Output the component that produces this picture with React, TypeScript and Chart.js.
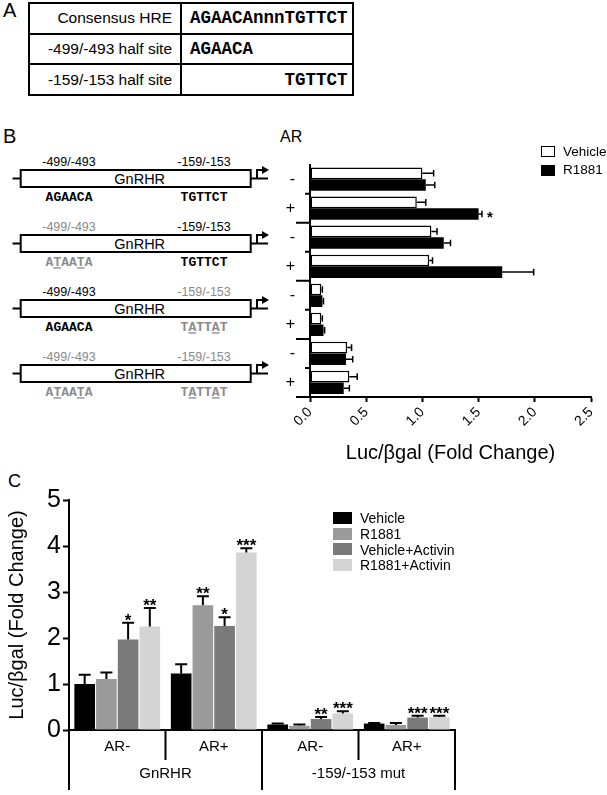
import React, { useEffect, useRef } from 'react';
import { Chart, registerables } from 'chart.js';

Chart.register(...registerables);

const SANS = '"Liberation Sans", Arial, Helvetica, sans-serif';
const MONO = '"Liberation Mono", "Courier New", monospace';
Chart.defaults.font.family = SANS;
Chart.defaults.color = '#000';

// ---------------- Panel A data ----------------
const hreNames = ['Consensus HRE', '-499/-493 half site', '-159/-153 half site'];
const hreSeqs = ['AGAACAnnnTGTTCT', 'AGAACA', 'TGTTCT'];
const hreSeqOffset = [0, 0, 9];

// ---------------- Panel B data ----------------
const bArLabels = ['-', '+', '-', '+', '-', '+', '-', '+'];
const bSeries = ['Vehicle', 'R1881'];
const bVehicle = [1.0, 0.95, 1.08, 1.06, 0.1, 0.1, 0.33, 0.35];
const bVehicleErr = [0.1, 0.08, 0.05, 0.03, 0.01, 0.01, 0.04, 0.07];
const bR1881 = [1.03, 1.5, 1.19, 1.71, 0.11, 0.12, 0.32, 0.3];
const bR1881Err = [0.08, 0.03, 0.06, 0.28, 0.01, 0.01, 0.06, 0.05];
const bR1881Sig = ['', '*', '', '', '', '', '', ''];
const bXTitle = 'Luc/βgal (Fold Change)';
const bXMax = 2.5;
const bXStep = 0.5;

const siteNames = ['-499/-493', '-159/-153'];
const siteWt = ['AGAACA', 'TGTTCT'];
const siteMut = ['ATAATA', 'TATTAT'];
const siteMutPositions = [1, 4];
const constructName = 'GnRHR';
const constructLeftMut = [false, true, false, true];
const constructRightMut = [false, false, true, true];

// ---------------- Panel C data ----------------
const cArLabels = ['AR-', 'AR+', 'AR-', 'AR+'];
const cConstructs = ['GnRHR', '-159/-153 mut'];
const cSeries = ['Vehicle', 'R1881', 'Vehicle+Activin', 'R1881+Activin'];
const cVehicle = [1.0, 1.23, 0.12, 0.14];
const cVehicleErr = [0.2, 0.2, 0.02, 0.01];
const cR1881 = [1.11, 2.71, 0.09, 0.11];
const cR1881Err = [0.14, 0.2, 0.03, 0.04];
const cVehAct = [1.97, 2.26, 0.24, 0.27];
const cVehActErr = [0.36, 0.19, 0.04, 0.04];
const cR1881Act = [2.25, 3.86, 0.36, 0.28];
const cR1881ActErr = [0.4, 0.09, 0.05, 0.03];
const cVehicleSig = ['', '', '', ''];
const cR1881Sig = ['', '**', '', ''];
const cVehActSig = ['*', '*', '**', '***'];
const cR1881ActSig = ['**', '***', '***', '***'];
const cYTitle = 'Luc/βgal (Fold Change)';
const cYMax = 5;

const cColors = ['#000000', '#9a9a9a', '#7a7a7a', '#d4d4d4'];

// ---------------- plugins ----------------
const errorBarPlugin = {
  id: 'errorBars',
  afterDatasetsDraw(chart: any, _args: any, opts: any) {
    const ctx = chart.ctx;
    const horizontal = chart.options.indexAxis === 'y';
    const vScale = horizontal ? chart.scales.x : chart.scales.y;
    ctx.save();
    ctx.strokeStyle = '#000';
    ctx.fillStyle = '#000';
    ctx.lineWidth = opts.lineWidth;
    ctx.font = opts.font;
    chart.data.datasets.forEach((ds: any, di: number) => {
      const meta = chart.getDatasetMeta(di);
      meta.data.forEach((el: any, i: number) => {
        const v = ds.data[i];
        const e = (ds.errors && ds.errors[i]) || 0;
        const end = vScale.getPixelForValue(v + e);
        const cap = opts.cap;
        ctx.beginPath();
        if (horizontal) {
          ctx.moveTo(el.x, el.y);
          ctx.lineTo(end, el.y);
          ctx.moveTo(end, el.y - cap);
          ctx.lineTo(end, el.y + cap);
        } else {
          ctx.moveTo(el.x, el.y);
          ctx.lineTo(el.x, end);
          ctx.moveTo(el.x - cap, end);
          ctx.lineTo(el.x + cap, end);
        }
        ctx.stroke();
        const s = ds.sig && ds.sig[i];
        if (s) {
          ctx.textBaseline = 'alphabetic';
          if (horizontal) {
            ctx.textAlign = 'left';
            ctx.fillText(s, end + opts.sigGap, el.y + opts.sigShift);
          } else {
            ctx.textAlign = 'center';
            ctx.fillText(s, el.x, end + opts.sigShift);
          }
        }
      });
    });
    ctx.restore();
  },
};

const bAxisTickPlugin = {
  id: 'bAxisTicks',
  afterDraw(chart: any) {
    const ctx = chart.ctx;
    const ys = chart.scales.y;
    const { left, bottom } = chart.chartArea;
    const n = chart.data.labels.length;
    ctx.save();
    ctx.strokeStyle = '#000';
    ctx.lineWidth = 2;
    ctx.beginPath();
    for (let i = 1; i < n; i++) {
      const y = (ys.getPixelForValue(i - 1) + ys.getPixelForValue(i)) / 2;
      const len = i % 2 === 0 ? 14 : 5;
      ctx.moveTo(left - len, y);
      ctx.lineTo(left, y);
    }
    ctx.moveTo(left - 14, bottom);
    ctx.lineTo(left, bottom);
    ctx.stroke();
    ctx.restore();
  },
};

const cGroupPlugin = {
  id: 'cGroups',
  afterDraw(chart: any) {
    const ctx = chart.ctx;
    const xs = chart.scales.x;
    const { left, right, bottom } = chart.chartArea;
    const n = chart.data.labels.length;
    const bounds: number[] = [];
    for (let i = 0; i <= n; i++) {
      bounds.push(i === 0 ? left : i === n ? right : (xs.getPixelForValue(i - 1) + xs.getPixelForValue(i)) / 2);
    }
    ctx.save();
    ctx.strokeStyle = '#000';
    ctx.lineWidth = 2;
    ctx.beginPath();
    bounds.forEach((x, i) => {
      const len = i % 2 === 0 ? 60 : 30;
      ctx.moveTo(x, bottom);
      ctx.lineTo(x, bottom + len);
    });
    ctx.stroke();
    ctx.font = `15px ${SANS}`;
    ctx.fillStyle = '#000';
    ctx.textAlign = 'center';
    ctx.textBaseline = 'middle';
    cConstructs.forEach((name, k) => {
      const x = (bounds[2 * k] + bounds[2 * k + 2]) / 2;
      ctx.fillText(name, x, bottom + 44);
    });
    ctx.restore();
  },
};

// ---------------- helpers ----------------
function Txt(props: {
  x: number; y: number; size: number; children: any; align?: 'left' | 'center' | 'right';
  color?: string; weight?: string; family?: string;
}) {
  const { x, y, size, children, align = 'left', color = '#000', weight = 'normal', family = SANS } = props;
  const tx = align === 'center' ? 'translateX(-50%)' : align === 'right' ? 'translateX(-100%)' : 'none';
  return (
    <div
      style={{
        position: 'absolute', left: x, top: y - 0.49 * size, fontSize: size, lineHeight: `${size}px`,
        fontFamily: family, fontWeight: weight as any, color, whiteSpace: 'pre', transform: tx,
      }}
    >
      {children}
    </div>
  );
}

function HreTable() {
  const cell: React.CSSProperties = { border: '2px solid #000', height: 28.7, padding: 0, boxSizing: 'content-box' };
  return (
    <table style={{ position: 'absolute', left: 28, top: 2, borderCollapse: 'collapse' }}>
      <tbody>
        {hreNames.map((name, i) => (
          <tr key={i}>
            <td style={{ ...cell, width: 142, paddingRight: 8, textAlign: 'right', fontFamily: SANS, fontSize: 15.5 }}>{name}</td>
            <td style={{ ...cell, width: 162, paddingLeft: 8, fontFamily: MONO, fontWeight: 'bold', fontSize: 17.5, whiteSpace: 'pre' }}>
              {' '.repeat(hreSeqOffset[i]) + hreSeqs[i]}
            </td>
          </tr>
        ))}
      </tbody>
    </table>
  );
}

function SeqText(props: { x: number; y: number; seq: string; mut: boolean }) {
  const { x, y, seq, mut } = props;
  return (
    <text x={x} y={y} textAnchor="middle" fontFamily={MONO} fontWeight="bold" fontSize={13} fill={mut ? '#8a8a8a' : '#000'}>
      {seq.split('').map((ch, k) => (
        <tspan key={k} style={mut && siteMutPositions.includes(k) ? { textDecoration: 'underline' } : undefined}>{ch}</tspan>
      ))}
    </text>
  );
}

function Constructs() {
  const rows = constructLeftMut.map((lm, i) => ({ lm, rm: constructRightMut[i], top: 170 + i * 65 }));
  const bx0 = 20.7;
  const bx1 = 250.7;
  const h = 17;
  const cx = [69, 204];
  return (
    <svg width={280} height={400} style={{ position: 'absolute', left: 0, top: 0 }}>
      {rows.map((r, i) => {
        const yc = r.top + h / 2;
        const mutFlags = [r.lm, r.rm];
        return (
          <g key={i}>
            <line x1={12.5} y1={yc} x2={bx0} y2={yc} stroke="#000" strokeWidth={2} />
            <rect x={bx0} y={r.top} width={bx1 - bx0} height={h} fill="#fff" stroke="#000" strokeWidth={2} />
            <line x1={bx1} y1={yc} x2={268} y2={yc} stroke="#000" strokeWidth={2} />
            <line x1={257} y1={yc} x2={257} y2={r.top - 1} stroke="#000" strokeWidth={2} />
            <line x1={256} y1={r.top} x2={263} y2={r.top} stroke="#000" strokeWidth={2} />
            <polygon points={`${262},${r.top - 4} ${269},${r.top} ${262},${r.top + 4}`} fill="#000" />
            <text x={(bx0 + bx1) / 2 + 4} y={yc + 5.2} textAnchor="middle" fontFamily={SANS} fontSize={14.5} fill="#000">
              {constructName}
            </text>
            {siteNames.map((sn, k) => (
              <text key={'n' + k} x={cx[k]} y={r.top - 9 + 4.5} textAnchor="middle" fontFamily={SANS} fontSize={12.5}
                fill={mutFlags[k] ? '#8a8a8a' : '#000'}>
                {sn}
              </text>
            ))}
            {siteNames.map((_sn, k) => (
              <SeqText key={'s' + k} x={cx[k]} y={r.top + 27 + 4.3} seq={mutFlags[k] ? siteMut[k] : siteWt[k]} mut={mutFlags[k]} />
            ))}
          </g>
        );
      })}
    </svg>
  );
}

function ChartB() {
  const ref = useRef<HTMLCanvasElement>(null);
  useEffect(() => {
    const chart = new Chart(ref.current as HTMLCanvasElement, {
      type: 'bar',
      data: {
        labels: bArLabels,
        datasets: [
          {
            label: bSeries[0], data: bVehicle, errors: bVehicleErr, backgroundColor: '#ffffff', borderColor: '#000',
            borderWidth: 1.5, borderSkipped: false, categoryPercentage: 0.8, barPercentage: 1.0,
          } as any,
          {
            label: bSeries[1], data: bR1881, errors: bR1881Err, sig: bR1881Sig, backgroundColor: '#000', borderColor: '#000',
            borderWidth: 0, categoryPercentage: 0.8, barPercentage: 1.0,
          } as any,
        ],
      },
      options: {
        indexAxis: 'y',
        responsive: false,
        animation: false,
        layout: { padding: { top: 8, right: 16, left: 0, bottom: 0 } },
        plugins: {
          legend: { display: false },
          tooltip: { enabled: false },
          errorBars: { lineWidth: 1.5, cap: 3.3, font: `bold 15px ${SANS}`, sigGap: 5, sigShift: 8.5 },
        } as any,
        scales: {
          x: {
            min: 0, max: bXMax,
            ticks: { stepSize: bXStep, callback: (v: any) => Number(v).toFixed(1), minRotation: 45, maxRotation: 45, font: { size: 14 }, color: '#000', padding: 2 },
            grid: { drawOnChartArea: false, drawTicks: true, tickLength: 5, color: '#000', tickWidth: 2 } as any,
            border: { display: true, color: '#000', width: 2 },
            title: { display: true, text: bXTitle, font: { size: 20 }, color: '#000', padding: { top: 0, bottom: 15 } },
            afterFit: (s: any) => { s.height = 83; },
          },
          y: {
            ticks: { font: { size: 16 }, color: '#000', padding: 15 },
            grid: { display: false, drawTicks: false },
            border: { display: true, color: '#000', width: 2 },
            afterFit: (s: any) => { s.width = 60; },
          },
        },
      } as any,
      plugins: [errorBarPlugin, bAxisTickPlugin],
    });
    return () => chart.destroy();
  }, []);
  return <canvas ref={ref} width={357} height={340} style={{ position: 'absolute', left: 250, top: 140, width: 357, height: 340 }} />;
}

function ChartC() {
  const ref = useRef<HTMLCanvasElement>(null);
  useEffect(() => {
    const mk = (i: number, data: number[], errors: number[], sig: string[]) => ({
      label: cSeries[i], data, errors, sig, backgroundColor: cColors[i], borderWidth: 0,
      categoryPercentage: 0.9, barPercentage: 0.95,
    } as any);
    const chart = new Chart(ref.current as HTMLCanvasElement, {
      type: 'bar',
      data: {
        labels: cArLabels,
        datasets: [
          mk(0, cVehicle, cVehicleErr, cVehicleSig),
          mk(1, cR1881, cR1881Err, cR1881Sig),
          mk(2, cVehAct, cVehActErr, cVehActSig),
          mk(3, cR1881Act, cR1881ActErr, cR1881ActSig),
        ],
      },
      options: {
        responsive: false,
        animation: false,
        layout: { padding: { top: 20, right: 15, left: 0, bottom: 0 } },
        plugins: {
          legend: { display: false },
          tooltip: { enabled: false },
          errorBars: { lineWidth: 2, cap: 6, font: `bold 17px ${SANS}`, sigGap: 0, sigShift: 3 },
        } as any,
        scales: {
          x: {
            ticks: { font: { size: 15 }, color: '#000', padding: 8 },
            grid: { display: false, drawTicks: false },
            border: { display: true, color: '#000', width: 2 },
            afterFit: (s: any) => { s.height = 65; },
          },
          y: {
            min: 0, max: cYMax,
            ticks: { stepSize: 1, font: { size: 25 }, color: '#000', padding: 2 },
            grid: { drawOnChartArea: false, drawTicks: true, tickLength: 6, color: '#000', tickWidth: 2 } as any,
            border: { display: true, color: '#000', width: 2 },
            title: { display: true, text: cYTitle, font: { size: 20 }, color: '#000', padding: { top: 5, bottom: 0 } },
            afterFit: (s: any) => { s.width = 69; },
          },
        },
      } as any,
      plugins: [errorBarPlugin, cGroupPlugin],
    });
    return () => chart.destroy();
  }, []);
  return <canvas ref={ref} width={470} height={315} style={{ position: 'absolute', left: 0, top: 480, width: 470, height: 315 }} />;
}

function LegendB() {
  const rows = [151.7, 170];
  return (
    <>
      {bSeries.map((s, i) => (
        <React.Fragment key={s}>
          <div style={{
            position: 'absolute', left: 541, top: rows[i] - 5.5, width: 14, height: 11, boxSizing: 'border-box',
            border: '1.5px solid #000', background: i === 0 ? '#fff' : '#000',
          }} />
          <Txt x={563} y={rows[i]} size={13.5}>{s}</Txt>
        </React.Fragment>
      ))}
    </>
  );
}

function LegendC() {
  return (
    <>
      {cSeries.map((s, i) => {
        const cy = 518.3 + i * 15.55;
        return (
          <React.Fragment key={s}>
            <div style={{ position: 'absolute', left: 333, top: cy - 6, width: 19, height: 12, background: cColors[i] }} />
            <Txt x={360} y={cy} size={14}>{s}</Txt>
          </React.Fragment>
        );
      })}
    </>
  );
}

export default function App() {
  return (
    <div style={{
      position: 'absolute', left: 0, top: 0, width: 607, height: 795, background: '#fff',
      fontFamily: SANS, color: '#000', overflow: 'hidden',
    }}>
      <Txt x={3} y={10} size={20}>A</Txt>
      <HreTable />
      <Txt x={3} y={135.5} size={20}>B</Txt>
      <Constructs />
      <Txt x={280} y={137} size={16}>AR</Txt>
      <ChartB />
      <LegendB />
      <Txt x={8} y={481} size={18}>C</Txt>
      <ChartC />
      <LegendC />
    </div>
  );
}
